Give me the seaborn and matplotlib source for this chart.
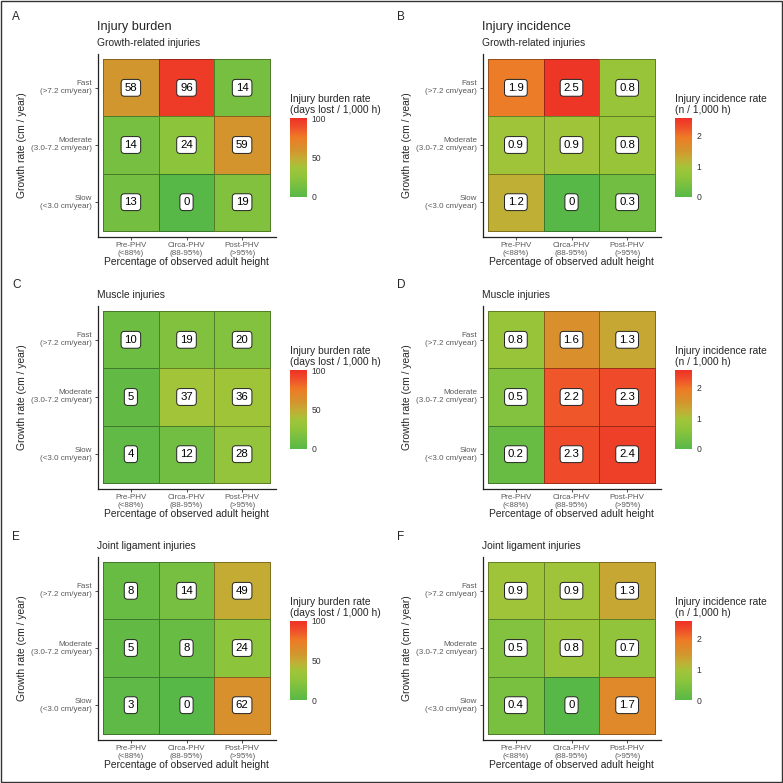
import numpy as np
import matplotlib
matplotlib.use("Agg")
import matplotlib.pyplot as plt
import seaborn as sns
from matplotlib.colors import LinearSegmentedColormap
from matplotlib.patches import Rectangle

# Data
growth_rows = ["Fast\n(>7.2 cm/year)", "Moderate\n(3.0-7.2 cm/year)", "Slow\n(<3.0 cm/year)"]
maturity_cols = ["Pre-PHV\n(<88%)", "Circa-PHV\n(88-95%)", "Post-PHV\n(>95%)"]

burden_growth = [[58, 96, 14], [14, 24, 59], [13, 0, 19]]
burden_muscle = [[10, 19, 20], [5, 37, 36], [4, 12, 28]]
burden_joint = [[8, 14, 49], [5, 8, 24], [3, 0, 62]]

incidence_growth = [[1.9, 2.5, 0.8], [0.9, 0.9, 0.8], [1.2, 0, 0.3]]
incidence_muscle = [[0.8, 1.6, 1.3], [0.5, 2.2, 2.3], [0.2, 2.3, 2.4]]
incidence_joint = [[0.9, 0.9, 1.3], [0.5, 0.8, 0.7], [0.4, 0, 1.7]]

panel_letters = [["A", "C", "E"], ["B", "D", "F"]]
subtitles = ["Growth-related injuries", "Muscle injuries", "Joint ligament injuries"]
column_titles = ["Injury burden", "Injury incidence"]
legend_titles = ["Injury burden rate\n(days lost / 1,000 h)", "Injury incidence rate\n(n / 1,000 h)"]
burden_ticks = [0, 50, 100]
incidence_ticks = [0, 1, 2]

sns.set_style("white")
plt.rcParams["font.family"] = ["Liberation Sans", "DejaVu Sans"]

cmap = LinearSegmentedColormap.from_list(
    "growth",
    [(0.0, "#58b847"), (0.24, "#8cc43c"), (0.37, "#a2c438"), (0.49, "#c4ac34"),
     (0.58, "#d2962e"), (0.76, "#ee7a26"), (0.88, "#ef502a"), (1.0, "#ee3126")])

W = H = 783
fig = plt.figure(figsize=(7.83, 7.83), dpi=100)
fig.add_artist(Rectangle((0.0015, 0.0015), 0.997, 0.997, transform=fig.transFigure,
                         fill=False, ec="#333333", lw=1.0))


def px_rect(l, t, r, b):
    return [l / W, 1 - b / H, (r - l) / W, (b - t) / H]


def fx(x):
    return x / W


def fy(y):
    return 1 - y / H


tile_tops = [59, 311, 562]
letter_ys = [17, 285, 537]


def draw_panel(col, row, data, vmax, ticks):
    dx = 385 * col
    tl = 103 + dx
    tr = tl + 167
    tt = tile_tops[row]
    tb = tt + 172
    ax = fig.add_axes(px_rect(tl - 5.5, tt - 5.5, tr + 5.5, tb + 5.5))
    cax = fig.add_axes(px_rect(tl + 187, tt + 59, tl + 204, tt + 138))

    vals = np.array(data, dtype=float)
    labels = np.array([[f"{v:g}" for v in r] for r in vals])
    sns.heatmap(vals, ax=ax, cbar_ax=cax, cmap=cmap, vmin=0, vmax=vmax,
                annot=labels, fmt="",
                annot_kws=dict(fontsize=8.2, color="black",
                               bbox=dict(boxstyle="round,pad=0.3", fc="white",
                                         ec="#222222", lw=0.7)),
                linewidths=0.5, linecolor=(0, 0, 0, 0.35),
                xticklabels=maturity_cols, yticklabels=growth_rows)

    ax.set_xlim(-0.1, 3.1)
    ax.set_ylim(3.1, -0.1)
    for s in ["left", "bottom"]:
        ax.spines[s].set_visible(True)
        ax.spines[s].set_linewidth(0.9)
        ax.spines[s].set_color("#222222")
    ax.tick_params(length=2.5, width=0.6, color="#333333", labelsize=5.8,
                   labelcolor="#5a5a5a", pad=1.5, bottom=True, left=True)
    ax.set_yticklabels(growth_rows, rotation=0, ha="right")
    ax.set_xticklabels(maturity_cols, rotation=0, ha="center")

    ax.set_xlabel("Percentage of observed adult height", fontsize=7.4)
    ax.xaxis.set_label_coords(0.5, -(tb + 31 - (tb + 5.5)) / 183)
    ax.xaxis.label.set_va("center")
    ax.set_ylabel("Growth rate (cm / year)", fontsize=7.4)
    ax.yaxis.set_label_coords(-((tl - 5.5) - (22.5 + dx)) / 178, 0.5)
    ax.yaxis.label.set_va("center")

    cb = ax.collections[0].colorbar
    cb.set_ticks(ticks)
    cb.outline.set_visible(False)
    cax.tick_params(direction="in", length=3.5, width=0.8, color="white",
                    labelsize=6.2, labelcolor="#333333", pad=3)

    fig.text(fx(tl + 187), fy(tt + 56), legend_titles[col], fontsize=7.4,
             ha="left", va="bottom", linespacing=1.1)
    fig.text(fx(12 + dx), fy(letter_ys[row]), panel_letters[col][row], fontsize=8.5,
             ha="left", va="center")
    fig.text(fx(tl - 6), fy(tt - 16), subtitles[row], fontsize=7.4, ha="left", va="center")
    if row == 0:
        fig.text(fx(tl - 6), fy(27), column_titles[col], fontsize=9.2, ha="left", va="center")


draw_panel(0, 0, burden_growth, 100, burden_ticks)
draw_panel(0, 1, burden_muscle, 100, burden_ticks)
draw_panel(0, 2, burden_joint, 100, burden_ticks)
draw_panel(1, 0, incidence_growth, 2.55, incidence_ticks)
draw_panel(1, 1, incidence_muscle, 2.55, incidence_ticks)
draw_panel(1, 2, incidence_joint, 2.55, incidence_ticks)

fig.savefig("out.png", dpi=100)
